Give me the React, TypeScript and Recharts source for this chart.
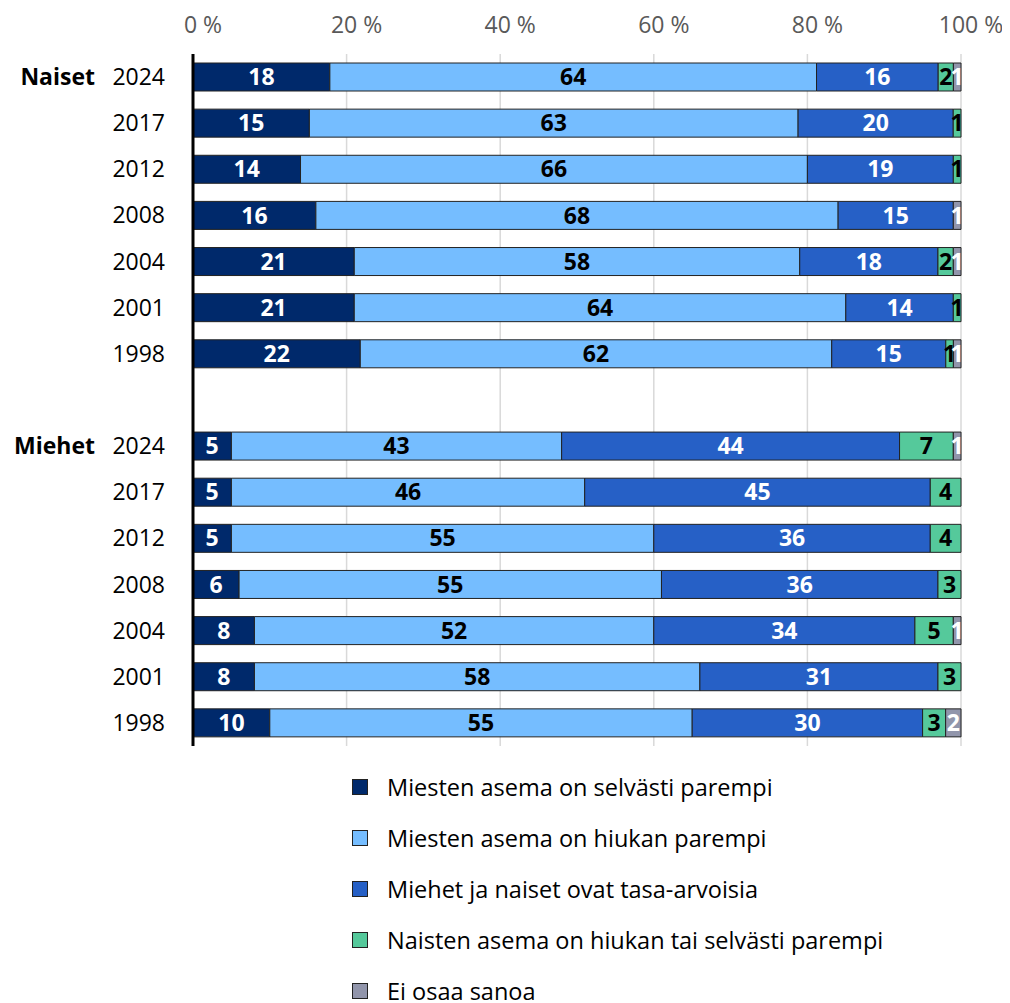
import React from 'react';
import { BarChart, Bar, XAxis, YAxis, CartesianGrid, LabelList } from 'recharts';

const years = ['2024', '2017', '2012', '2008', '2004', '2001', '1998'];
const groups = ['Naiset', 'Miehet'];

const seriesNames = [
  'Miesten asema on selvästi parempi',
  'Miesten asema on hiukan parempi',
  'Miehet ja naiset ovat tasa-arvoisia',
  'Naisten asema on hiukan tai selvästi parempi',
  'Ei osaa sanoa',
];

// Naiset
const nSelvasti = [18, 15, 14, 16, 21, 21, 22];
const nHiukan = [64, 63, 66, 68, 58, 64, 62];
const nTasa = [16, 20, 19, 15, 18, 14, 15];
const nNaiset = [2, 1, 1, 0, 2, 1, 1];
const nEos = [1, 0, 0, 1, 1, 0, 1];

// Miehet
const mSelvasti = [5, 5, 5, 6, 8, 8, 10];
const mHiukan = [43, 46, 55, 55, 52, 58, 55];
const mTasa = [44, 45, 36, 36, 34, 31, 30];
const mNaiset = [7, 4, 4, 3, 5, 3, 3];
const mEos = [1, 0, 0, 0, 1, 0, 2];

const xTicks = [0, 0.2, 0.4, 0.6, 0.8, 1];

const colors = ['#00296b', '#75bdff', '#2660c6', '#55c99b', '#9195ab'];
const labelColors = ['#ffffff', '#000000', '#ffffff', '#000000', '#ffffff'];
const keys = ['s0', 's1', 's2', 's3', 's4'];

const build = (g: string, arrs: number[][]) =>
  years.map((y, i) => ({
    cat: `${g}-${y}`,
    group: i === 0 ? g : '',
    year: y,
    s0: arrs[0][i],
    s1: arrs[1][i],
    s2: arrs[2][i],
    s3: arrs[3][i],
    s4: arrs[4][i],
  }));

const data = [
  ...build(groups[0], [nSelvasti, nHiukan, nTasa, nNaiset, nEos]),
  { cat: 'gap', group: '', year: '', s0: 0, s1: 0, s2: 0, s3: 0, s4: 0 },
  ...build(groups[1], [mSelvasti, mHiukan, mTasa, mNaiset, mEos]),
];

const FONT = '"Open Sans", "Noto Sans", sans-serif';

const YTick = (props: any) => {
  const { x, y, payload } = props;
  const row = data.find((d) => d.cat === payload.value);
  if (!row) return null;
  return (
    <g>
      <text x={x - 20} y={y} dy={8} textAnchor="end" fontFamily={FONT} fontSize={23} fill="#000">
        {row.year}
      </text>
      {row.group ? (
        <text x={87} y={y} dy={8} textAnchor="end" fontFamily={FONT} fontSize={23} fontWeight="bold" fill="#000">
          {row.group}
        </text>
      ) : null}
    </g>
  );
};

const XTick = (props: any) => {
  const { x, y, payload } = props;
  return (
    <text x={x + 10} y={y} textAnchor="middle" fontFamily={FONT} fontSize={23} fill="#595959">
      {`${Math.round(payload.value * 100)} %`}
    </text>
  );
};

export default function App() {
  return (
    <div style={{ position: 'relative', width: 1000, height: 995, fontFamily: FONT }}>
      <BarChart
        width={1000}
        height={760}
        data={data}
        layout="vertical"
        stackOffset="expand"
        barSize={28}
        margin={{ top: 16, right: 47, bottom: 22, left: 0 }}
      >
        <CartesianGrid horizontal={false} vertical={true} stroke="#d9d9d9" strokeWidth={1.5} />
        <XAxis
          type="number"
          orientation="top"
          domain={[0, 1]}
          ticks={xTicks}
          axisLine={false}
          tickLine={false}
          tickSize={0}
          tickMargin={21}
          height={30}
          tick={<XTick />}
        />
        <YAxis
          type="category"
          dataKey="cat"
          width={185}
          tick={<YTick />}
          tickLine={false}
          axisLine={{ stroke: '#000', strokeWidth: 3 }}
          interval={0}
        />
        {keys.map((k, i) => (
          <Bar
            key={k}
            dataKey={k}
            name={seriesNames[i]}
            stackId="a"
            fill={colors[i]}
            stroke="#222"
            strokeWidth={1}
            isAnimationActive={false}
          >
            <LabelList
              dataKey={k}
              position="center"
              formatter={(v: any) => (v && Number(v) > 0 ? String(v) : '')}
              fill={labelColors[i]}
              fontSize={23}
              fontWeight="bold"
              fontFamily={FONT}
            />
          </Bar>
        ))}
      </BarChart>
      <div style={{ position: 'absolute', left: 344, top: 753 }}>
        {seriesNames.map((n, i) => (
          <div key={n} style={{ display: 'flex', alignItems: 'center', height: 51 }}>
            <div
              style={{
                width: 14,
                height: 14,
                background: colors[i],
                border: '1.5px solid #222',
                marginRight: 19,
              }}
            />
            <span style={{ fontSize: 23.5, color: '#000', fontFamily: FONT, lineHeight: '30px' }}>{n}</span>
          </div>
        ))}
      </div>
    </div>
  );
}
